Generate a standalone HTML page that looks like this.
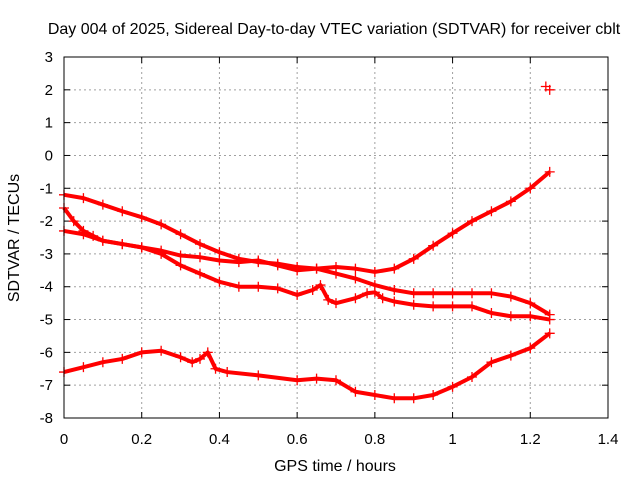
<!DOCTYPE html>
<html><head><meta charset="utf-8"><style>
body{margin:0;background:#fff;}
svg text{font-family:"Liberation Sans",sans-serif;font-size:15px;fill:#000;}
svg text.big{font-size:16px;}
</style></head><body>
<svg id="chart" width="640" height="480" xmlns="http://www.w3.org/2000/svg">
<rect width="640" height="480" fill="#fff"/>
<text class="big" x="334" y="34" text-anchor="middle">Day 004 of 2025, Sidereal Day-to-day VTEC variation (SDTVAR) for receiver cblt</text>
<text class="big" x="335" y="471" text-anchor="middle">GPS time / hours</text>
<text class="big" transform="translate(19,238) rotate(-90)" text-anchor="middle">SDTVAR / TECUs</text>
<g id="grid"></g><g id="ticks"></g><g id="series"></g>
<rect x="64" y="57" width="544" height="361" fill="none" stroke="#000" stroke-width="1"/>
</svg>
<script>
const xTicks=[0,0.2,0.4,0.6,0.8,1,1.2,1.4];
const yTicks=[3,2,1,0,-1,-2,-3,-4,-5,-6,-7,-8];
const xTickLabels=["0","0.2","0.4","0.6","0.8","1","1.2","1.4"];
const yTickLabels=["3","2","1","0","-1","-2","-3","-4","-5","-6","-7","-8"];
const xA=[0,0.05,0.1,0.15,0.2,0.25,0.3,0.35,0.4,0.45,0.5,0.55,0.6,0.65,0.7,0.75,0.8,0.85,0.9,0.95,1.0,1.05,1.1,1.15,1.2,1.25];
const yA=[-1.2,-1.3,-1.5,-1.7,-1.88,-2.1,-2.4,-2.7,-2.95,-3.15,-3.25,-3.3,-3.4,-3.45,-3.4,-3.45,-3.55,-3.45,-3.15,-2.75,-2.37,-2.0,-1.7,-1.4,-1.0,-0.5];
const xB=[0,0.05,0.1,0.15,0.2,0.25,0.3,0.35,0.4,0.45,0.5,0.55,0.6,0.65,0.7,0.75,0.8,0.85,0.9,0.95,1.0,1.05,1.1,1.15,1.2,1.25];
const yB=[-2.3,-2.4,-2.6,-2.7,-2.8,-2.9,-3.05,-3.1,-3.2,-3.25,-3.2,-3.35,-3.5,-3.45,-3.6,-3.75,-3.95,-4.1,-4.2,-4.2,-4.2,-4.2,-4.2,-4.3,-4.5,-4.85];
const xC=[0,0.025,0.05,0.075,0.1,0.15,0.2,0.25,0.3,0.35,0.4,0.45,0.5,0.55,0.6,0.64,0.66,0.68,0.7,0.75,0.78,0.8,0.82,0.85,0.9,0.95,1.0,1.05,1.1,1.15,1.2,1.25];
const yC=[-1.6,-2.0,-2.3,-2.45,-2.6,-2.7,-2.8,-3.0,-3.35,-3.6,-3.85,-4.0,-4.0,-4.05,-4.25,-4.1,-3.95,-4.4,-4.5,-4.35,-4.2,-4.17,-4.35,-4.45,-4.55,-4.6,-4.6,-4.6,-4.8,-4.9,-4.9,-5.0];
const xD=[0,0.05,0.1,0.15,0.2,0.25,0.3,0.33,0.35,0.37,0.39,0.42,0.5,0.6,0.65,0.7,0.75,0.8,0.85,0.9,0.95,1.0,1.05,1.1,1.15,1.2,1.25];
const yD=[-6.6,-6.45,-6.3,-6.2,-6.0,-5.95,-6.15,-6.3,-6.2,-6.0,-6.5,-6.6,-6.7,-6.85,-6.8,-6.85,-7.2,-7.3,-7.4,-7.4,-7.3,-7.05,-6.75,-6.3,-6.1,-5.87,-5.42];
const xE=[1.24,1.25];
const yE=[2.1,2.0];
const NS="http://www.w3.org/2000/svg";
const X=v=>64+v/1.4*544;
const Y=v=>57+(3-v)/11*361;
function mk(tag,attrs,parent){const e=document.createElementNS(NS,tag);for(const k in attrs)e.setAttribute(k,attrs[k]);parent.appendChild(e);return e;}
const grid=document.getElementById('grid'),ticks=document.getElementById('ticks'),ser=document.getElementById('series');
xTicks.forEach((t,i)=>{
  if(i>0&&i<xTicks.length-1){const l=mk('line',{x1:X(t),x2:X(t),y1:57,y2:418,stroke:'#a0a0a0','stroke-dasharray':'2,3'},grid);
  
  }
  const tx=mk('text',{x:X(t),y:444,'text-anchor':'middle'},ticks);tx.textContent=xTickLabels[i];
  
  
  mk('line',{x1:X(t),x2:X(t),y1:418,y2:412,stroke:'#000'},ticks);
  mk('line',{x1:X(t),x2:X(t),y1:57,y2:63,stroke:'#000'},ticks);
});
yTicks.forEach((t,i)=>{
  if(i>0&&i<yTicks.length-1){const l=mk('line',{x1:64,x2:608,y1:Y(t),y2:Y(t),stroke:'#a0a0a0','stroke-dasharray':'2,3'},grid);
  
  }
  const tx=mk('text',{x:53,y:Y(t)+5,'text-anchor':'end'},ticks);tx.textContent=yTickLabels[i];
  
  
  mk('line',{x1:64,x2:70,y1:Y(t),y2:Y(t),stroke:'#000'},ticks);
  mk('line',{x1:608,x2:602,y1:Y(t),y2:Y(t),stroke:'#000'},ticks);
});
function draw(xs,ys,name,line){
  const g=mk('g',{},ser);
  
  
  if(line){mk('polyline',{points:xs.map((x,i)=>X(x)+','+Y(ys[i])).join(' '),fill:'none',stroke:'#f00','stroke-width':4,'stroke-linejoin':'round'},g);}
  xs.forEach((x,i)=>{const cx=X(x),cy=Y(ys[i]);
    const p=mk('path',{d:`M${cx-5},${cy}h10M${cx},${cy-5}v10`,stroke:'#f00','stroke-width':1.3},g);
    
    });
}
draw(xA,yA,'series-a',true);
draw(xB,yB,'series-b',true);
draw(xC,yC,'series-c',true);
draw(xD,yD,'series-d',true);
draw(xE,yE,'outlier-points',false);
</script>
</body></html>
